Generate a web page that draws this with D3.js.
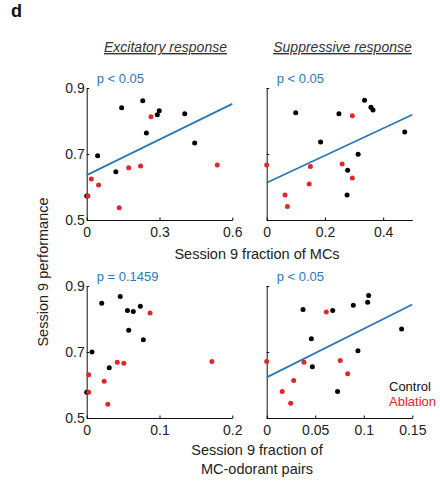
<!DOCTYPE html>
<html>
<head>
<meta charset="utf-8">
<script src="https://cdn.jsdelivr.net/npm/d3@7"></script>
<style>
  body { margin: 0; background: #fff; }
  text { font-family: "Liberation Sans", Arial, sans-serif; fill: #222; }
</style>
</head>
<body>
<div id="chart"></div>
<script>
// Session 9 performance vs fraction (x, y) pairs
const excitMcControl = [[0, 0.573], [0.045, 0.695], [0.144, 0.840], [0.12, 0.646], [0.231, 0.861],
  [0.246, 0.764], [0.291, 0.819], [0.299, 0.831], [0.404, 0.822], [0.445, 0.733]];
const excitMcAblation = [[0.005, 0.573], [0.019, 0.624], [0.049, 0.606], [0.134, 0.537], [0.173, 0.658],
  [0.222, 0.664], [0.265, 0.813], [0.538, 0.667]];
const excitMcFit = [[0, 0.636], [0.6, 0.852]];

const suppMcControl = [[0.0996, 0.825], [0.248, 0.822], [0.336, 0.863], [0.358, 0.842], [0.365, 0.833],
  [0.185, 0.736], [0.314, 0.699], [0.278, 0.651], [0.276, 0.576], [0.474, 0.767]];
const suppMcAblation = [[0, 0.667], [0.294, 0.816], [0.150, 0.662], [0.259, 0.670], [0.294, 0.627],
  [0.146, 0.609], [0.063, 0.576], [0.071, 0.541]];
const suppMcFit = [[0, 0.613], [0.5, 0.819]];

const excitPairControl = [[0, 0.578], [0.0073, 0.700], [0.0206, 0.848], [0.046, 0.868], [0.056, 0.826],
  [0.064, 0.823], [0.0737, 0.839], [0.0577, 0.766], [0.0778, 0.737], [0.031, 0.652]];
const excitPairAblation = [[0.0027, 0.631], [0.0027, 0.578], [0.024, 0.611], [0.029, 0.542], [0.042, 0.669],
  [0.051, 0.666], [0.087, 0.818], [0.172, 0.671]];

const suppPairControl = [[0.0374, 0.829], [0.068, 0.826], [0.0892, 0.842], [0.104, 0.851], [0.105, 0.871],
  [0.046, 0.740], [0.094, 0.704], [0.047, 0.655], [0.073, 0.580], [0.139, 0.770]];
const suppPairAblation = [[0, 0.671], [0.0614, 0.821], [0.0384, 0.669], [0.0758, 0.674], [0.0834, 0.634],
  [0.0278, 0.614], [0.016, 0.580], [0.0247, 0.545]];
const suppPairFit = [[0, 0.623], [0.15, 0.844]];

const yTicks = [0.5, 0.7, 0.9];
const xTicksMc = [[0, 0.3, 0.6], [0, 0.2, 0.4]];
const xTicksPair = [[0, 0.1, 0.2], [0, 0.05, 0.1, 0.15]];
const xMax = [[0.6, 0.5], [0.2, 0.15]];
const pLabels = [["p < 0.05", "p < 0.05"], ["p = 0.1459", "p < 0.05"]];
const columnTitles = ["Excitatory response", "Suppressive response"];

const blue = "#2b79b6", red = "#e3262a";

const svg = d3.select("#chart").append("svg")
  .attr("width", 440).attr("height", 486);

// panel letter
svg.append("text").attr("x", 11).attr("y", 17)
  .style("font-size", "18px").style("font-weight", "bold").style("fill", "#111")
  .text("d");

const colX = [86.7, 266.7], plotW = 145.6;
const rowY = [88, 286], plotH = 132;

const panels = [
  { r: 0, c: 0, ctrl: excitMcControl, abl: excitMcAblation, fit: excitMcFit, ticks: xTicksMc[0] },
  { r: 0, c: 1, ctrl: suppMcControl, abl: suppMcAblation, fit: suppMcFit, ticks: xTicksMc[1] },
  { r: 1, c: 0, ctrl: excitPairControl, abl: excitPairAblation, fit: null, ticks: xTicksPair[0] },
  { r: 1, c: 1, ctrl: suppPairControl, abl: suppPairAblation, fit: suppPairFit, ticks: xTicksPair[1] }
];

panels.forEach(p => {
  const g = svg.append("g")
    .attr("transform", `translate(${colX[p.c]},${rowY[p.r]})`);

  const x = d3.scaleLinear().domain([0, xMax[p.r][p.c]]).range([0, plotW]);
  const y = d3.scaleLinear().domain([0.5, 0.9]).range([plotH, 0]);

  // x axis, ticks pointing inward
  const xa = g.append("g")
    .attr("transform", `translate(0,${plotH})`)
    .call(d3.axisBottom(x).tickValues(p.ticks).tickFormat(d3.format("~g"))
      .tickSizeInner(-2.5).tickSizeOuter(0).tickPadding(7));
  xa.select(".domain").attr("stroke", "#111");
  xa.selectAll("text").style("font-size", "14px");

  const ya = g.append("g")
    .call(d3.axisLeft(y).tickValues(yTicks).tickFormat(p.c === 0 ? d3.format(".1f") : () => "")
      .tickSizeInner(-2.5).tickSizeOuter(0).tickPadding(2));
  ya.select(".domain").attr("stroke", "#111");
  ya.selectAll("text").style("font-size", "14px");

  if (p.fit) {
    g.append("path")
      .datum(p.fit)
      .attr("fill", "none")
      .attr("stroke", blue)
      .attr("stroke-width", 1.8)
      .attr("d", d3.line().x(d => x(d[0])).y(d => y(d[1])));
  }

  g.selectAll(null).data(p.ctrl).enter().append("circle")
    .attr("cx", d => x(d[0])).attr("cy", d => y(d[1]))
    .attr("r", 2.5).attr("fill", "#000");

  g.selectAll(null).data(p.abl).enter().append("circle")
    .attr("cx", d => x(d[0])).attr("cy", d => y(d[1]))
    .attr("r", 2.5).attr("fill", red);

  g.append("text")
    .attr("x", 10).attr("y", -5)
    .style("font-size", "13px").style("fill", blue)
    .text(pLabels[p.r][p.c]);
});

// column titles, italic and underlined
columnTitles.forEach((t, i) => {
  svg.append("text")
    .attr("x", colX[i] + plotW / 2 + (i === 0 ? 6 : 3)).attr("y", 52)
    .attr("text-anchor", "middle")
    .style("font-size", "14px").style("font-style", "italic")
    .style("text-decoration", "underline").style("fill", "#333")
    .text(t);
});

// axis titles
svg.append("text").attr("x", 257).attr("y", 259)
  .attr("text-anchor", "middle").style("font-size", "14.5px")
  .text("Session 9 fraction of MCs");

svg.append("text").attr("x", 257).attr("y", 455)
  .attr("text-anchor", "middle").style("font-size", "14.5px")
  .text("Session 9 fraction of");
svg.append("text").attr("x", 257).attr("y", 474)
  .attr("text-anchor", "middle").style("font-size", "14.5px")
  .text("MC-odorant pairs");

svg.append("text")
  .attr("transform", "translate(48,272) rotate(-90)")
  .attr("text-anchor", "middle").style("font-size", "14.5px")
  .text("Session 9 performance");

// legend
svg.append("text").attr("x", 389).attr("y", 391)
  .style("font-size", "13px").style("fill", "#111").text("Control");
svg.append("text").attr("x", 389).attr("y", 406)
  .style("font-size", "13px").style("fill", red).text("Ablation");
</script>
</body>
</html>
